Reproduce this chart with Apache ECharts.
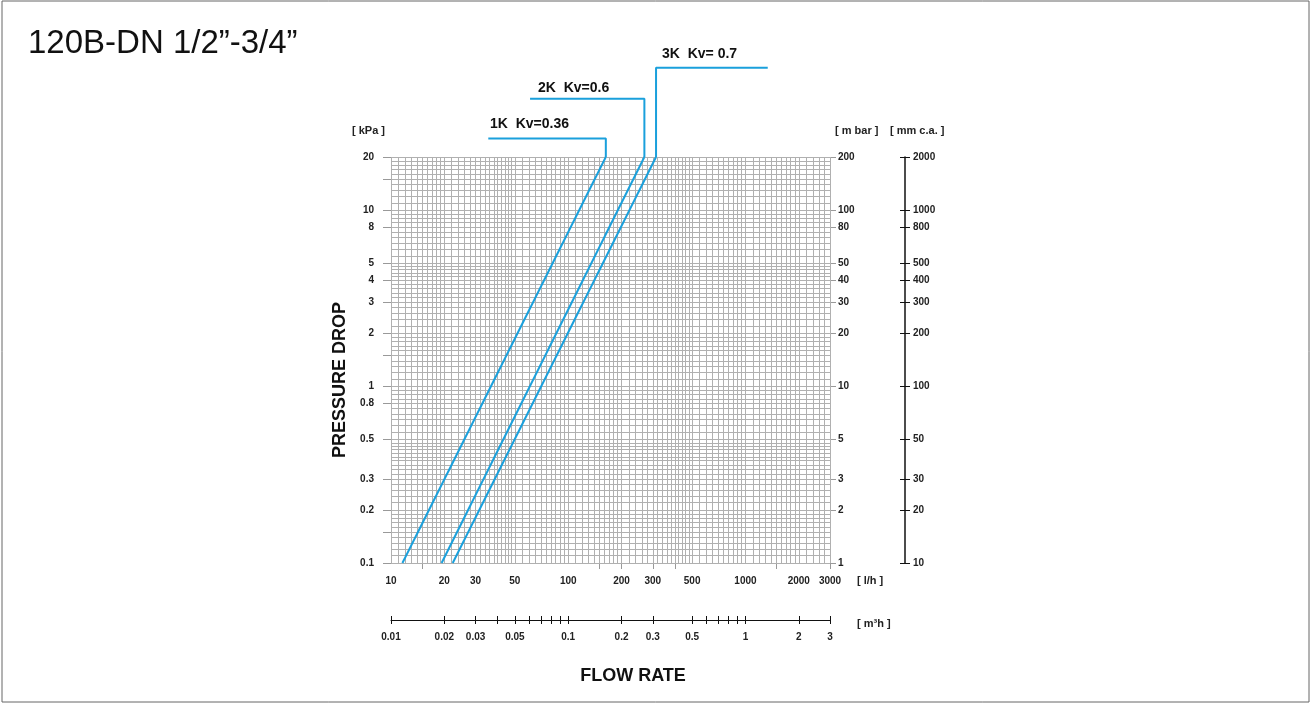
<!DOCTYPE html>
<html>
<head>
<meta charset="utf-8">
<title>120B-DN 1/2"-3/4"</title>
<script src="https://cdn.jsdelivr.net/npm/echarts@6/dist/echarts.min.js"></script>
<style>
    html, body { margin: 0; padding: 0; background: #fff; }
    #chart { width: 1312px; height: 704px; }
</style>
</head>
<body>
<div id="chart"></div>
<script>
// pressure drop curves: [flow l/h, kPa]
const curve1K = [[11.6, 0.1], [163, 20]];
const curve2K = [[19.3, 0.1], [269, 20]];
const curve3K = [[22.3, 0.1], [313, 20]];
// leader lines from the top end of each curve to its caption
const leader1K = [[163, 20], [163, 25.5], [35.4, 25.5]];
const leader2K = [[269, 20], [269, 42.8], [60.9, 42.8]];
const leader3K = [[313, 20], [313, 64.2], [1336, 64.2]];
const curveNames = ['1K  Kv=0.36', '2K  Kv=0.6', '3K  Kv= 0.7'];

// tick labels
const flowLabels = [10, 20, 30, 50, 100, 200, 300, 500, 1000, 2000, 3000];
const flowTicks = [15, 150, 200, 300, 400, 1500, 3000];
const kpaLabels = [0.1, 0.2, 0.3, 0.5, 0.8, 1, 2, 3, 4, 5, 8, 10, 20];
const kpaTicks = [0.1, 0.15, 0.2, 0.3, 0.5, 0.8, 1, 1.5, 2, 3, 4, 5, 8, 10, 15, 20];
const mbarLabels = [1, 2, 3, 5, 10, 20, 30, 40, 50, 80, 100, 200];
const mmcaLabels = [10, 20, 30, 50, 100, 200, 300, 400, 500, 800, 1000, 2000];
const m3hLabels = [0.01, 0.02, 0.03, 0.05, 0.1, 0.2, 0.3, 0.5, 1, 2, 3];
const m3hTicks = [0.01, 0.02, 0.03, 0.04, 0.05, 0.06, 0.07, 0.08, 0.09, 0.1,
                  0.2, 0.3, 0.5, 0.6, 0.7, 0.8, 0.9, 1, 2, 3];

const FONT = '"Liberation Sans", Arial, Helvetica, sans-serif';
const BLUE = '#1aa0dc';
const fmt = v => String(parseFloat(Number(v).toPrecision(6)));

// log paper rulings: 1-2 by 0.1, 2-5 by 0.2, 5-10 by 0.5 in every decade
function rulings(min, max) {
    const out = [];
    for (let d = min; d < max * 1.0001; d *= 10) {
        const steps = [[1, 2, 0.1], [2, 5, 0.2], [5, 10, 0.5]];
        for (const [a, b, s] of steps) {
            for (let k = a; k < b - 1e-9; k += s) {
                const v = parseFloat((k * d).toPrecision(6));
                if (v >= min * 0.9999 && v <= max * 1.0001) out.push(v);
            }
        }
    }
    out.push(max);
    return out;
}
const gridX = rulings(10, 3000);
const gridY = rulings(0.1, 20);

const labelStyle = { fontFamily: FONT, fontSize: 10, fontWeight: 'bold', color: '#222' };

const chart = echarts.init(document.getElementById('chart'));

const option = {
    backgroundColor: '#fff',
    animation: false,
    grid: [
        { left: 391, top: 157, width: 439, height: 406 },
        { left: 391, top: 600, width: 439, height: 20 },
        { left: 880, top: 157, width: 25, height: 406 }
    ],
    xAxis: [
        {
            type: 'log', gridIndex: 0, min: 10, max: 3000,
            axisLine: { show: false },
            splitLine: { show: false },
            axisTick: { show: true, customValues: flowTicks, length: 6, lineStyle: { color: '#999' } },
            axisLabel: Object.assign({ customValues: flowLabels, margin: 13, formatter: fmt }, labelStyle)
        },
        {
            type: 'log', gridIndex: 1, min: 0.01, max: 3, position: 'bottom',
            axisLine: { show: true, onZero: false, lineStyle: { color: '#111', width: 1 } },
            splitLine: { show: false },
            axisTick: { show: true, customValues: m3hTicks, length: 4, lineStyle: { color: '#111' } },
            axisLabel: Object.assign({ customValues: m3hLabels, margin: 12, formatter: fmt }, labelStyle)
        },
        {
            // upper half of the crossing ticks, pulled down onto the same line
            type: 'log', gridIndex: 1, min: 0.01, max: 3, position: 'top', offset: -20,
            axisLine: { show: false, onZero: false },
            splitLine: { show: false },
            axisTick: { show: true, customValues: m3hTicks, length: 4, lineStyle: { color: '#111' } },
            axisLabel: { show: false }
        },
        { type: 'value', gridIndex: 2, show: false, min: 0, max: 1 }
    ],
    yAxis: [
        {
            type: 'log', gridIndex: 0, min: 0.1, max: 20,
            axisLine: { show: false },
            splitLine: { show: false },
            axisTick: { show: true, customValues: kpaTicks, length: 8, lineStyle: { color: '#999' } },
            axisLabel: Object.assign({ customValues: kpaLabels, margin: 17, formatter: fmt }, labelStyle)
        },
        {
            type: 'log', gridIndex: 0, min: 1, max: 200, position: 'right',
            axisLine: { show: false },
            splitLine: { show: false },
            axisTick: { show: true, customValues: mbarLabels, length: 6, lineStyle: { color: '#999' } },
            axisLabel: Object.assign({ customValues: mbarLabels, margin: 8, formatter: fmt }, labelStyle)
        },
        { type: 'value', gridIndex: 1, show: false, min: 0, max: 1 },
        {
            type: 'log', gridIndex: 2, min: 10, max: 2000, position: 'right',
            axisLine: { show: true, onZero: false, lineStyle: { color: '#111', width: 1.5 } },
            splitLine: { show: false },
            axisTick: { show: true, customValues: mmcaLabels, length: 5, lineStyle: { color: '#111' } },
            axisLabel: Object.assign({ customValues: mmcaLabels, margin: 8, formatter: fmt }, labelStyle)
        },
        {
            // left half of the crossing ticks, moved onto the same line
            type: 'log', gridIndex: 2, min: 10, max: 2000, position: 'left', offset: -25,
            axisLine: { show: false, onZero: false },
            splitLine: { show: false },
            axisTick: { show: true, customValues: mmcaLabels, length: 5, lineStyle: { color: '#111' } },
            axisLabel: { show: false }
        }
    ],
    series: [
        {
            // paper rulings
            type: 'line', xAxisIndex: 0, yAxisIndex: 0, silent: true,
            data: [[10, 0.1]], showSymbol: false, lineStyle: { width: 0 },
            markLine: {
                silent: true, symbol: ['none', 'none'], label: { show: false },
                lineStyle: { color: '#b0b0b0', type: 'solid', width: 1 },
                emphasis: { disabled: true },
                data: gridX.map(v => ({ xAxis: v })).concat(gridY.map(v => ({ yAxis: v })))
            },
            z: 1
        },
        { name: curveNames[0], type: 'line', xAxisIndex: 0, yAxisIndex: 0, data: curve1K, showSymbol: false, lineStyle: { color: BLUE, width: 2 }, z: 5 },
        { name: curveNames[1], type: 'line', xAxisIndex: 0, yAxisIndex: 0, data: curve2K, showSymbol: false, lineStyle: { color: BLUE, width: 2 }, z: 5 },
        { name: curveNames[2], type: 'line', xAxisIndex: 0, yAxisIndex: 0, data: curve3K, showSymbol: false, lineStyle: { color: BLUE, width: 2 }, z: 5 },
        { type: 'line', xAxisIndex: 0, yAxisIndex: 0, data: leader1K, clip: false, showSymbol: false, lineStyle: { color: BLUE, width: 2 }, z: 5 },
        { type: 'line', xAxisIndex: 0, yAxisIndex: 0, data: leader2K, clip: false, showSymbol: false, lineStyle: { color: BLUE, width: 2 }, z: 5 },
        { type: 'line', xAxisIndex: 0, yAxisIndex: 0, data: leader3K, clip: false, showSymbol: false, lineStyle: { color: BLUE, width: 2 }, z: 5 }
    ],
    graphic: [
        { type: 'rect', shape: { x: 2, y: 1, width: 1307, height: 701 }, style: { fill: 'none', stroke: '#666', lineWidth: 1 }, silent: true },
        { type: 'text', x: 28, y: 44, style: { text: '120B-DN 1/2”-3/4”', font: 'normal 33px ' + FONT, fill: '#111', verticalAlign: 'middle' } },
        { type: 'text', x: 490, y: 124, style: { text: curveNames[0], font: 'bold 14px ' + FONT, fill: '#111', verticalAlign: 'middle' } },
        { type: 'text', x: 538, y: 88, style: { text: curveNames[1], font: 'bold 14px ' + FONT, fill: '#111', verticalAlign: 'middle' } },
        { type: 'text', x: 662, y: 54, style: { text: curveNames[2], font: 'bold 14px ' + FONT, fill: '#111', verticalAlign: 'middle' } },
        { type: 'text', x: 352, y: 131, style: { text: '[ kPa ]', font: 'bold 11px ' + FONT, fill: '#222', verticalAlign: 'middle' } },
        { type: 'text', x: 835, y: 131, style: { text: '[ m bar ]', font: 'bold 11px ' + FONT, fill: '#222', verticalAlign: 'middle' } },
        { type: 'text', x: 890, y: 131, style: { text: '[ mm c.a. ]', font: 'bold 11px ' + FONT, fill: '#222', verticalAlign: 'middle' } },
        { type: 'text', x: 857, y: 581, style: { text: '[ l/h ]', font: 'bold 11px ' + FONT, fill: '#222', verticalAlign: 'middle' } },
        { type: 'text', x: 857, y: 624, style: { text: '[ m³h ]', font: 'bold 11px ' + FONT, fill: '#222', verticalAlign: 'middle' } },
        { type: 'text', x: 340, y: 380, rotation: Math.PI / 2, style: { text: 'PRESSURE DROP', font: 'bold 18px ' + FONT, fill: '#111', align: 'center', verticalAlign: 'middle' } },
        { type: 'text', x: 633, y: 676, style: { text: 'FLOW RATE', font: 'bold 18px ' + FONT, fill: '#111', align: 'center', verticalAlign: 'middle' } }
    ]
};

chart.setOption(option);
window.addEventListener('resize', function () {
    chart.resize();
});
</script>
</body>
</html>
